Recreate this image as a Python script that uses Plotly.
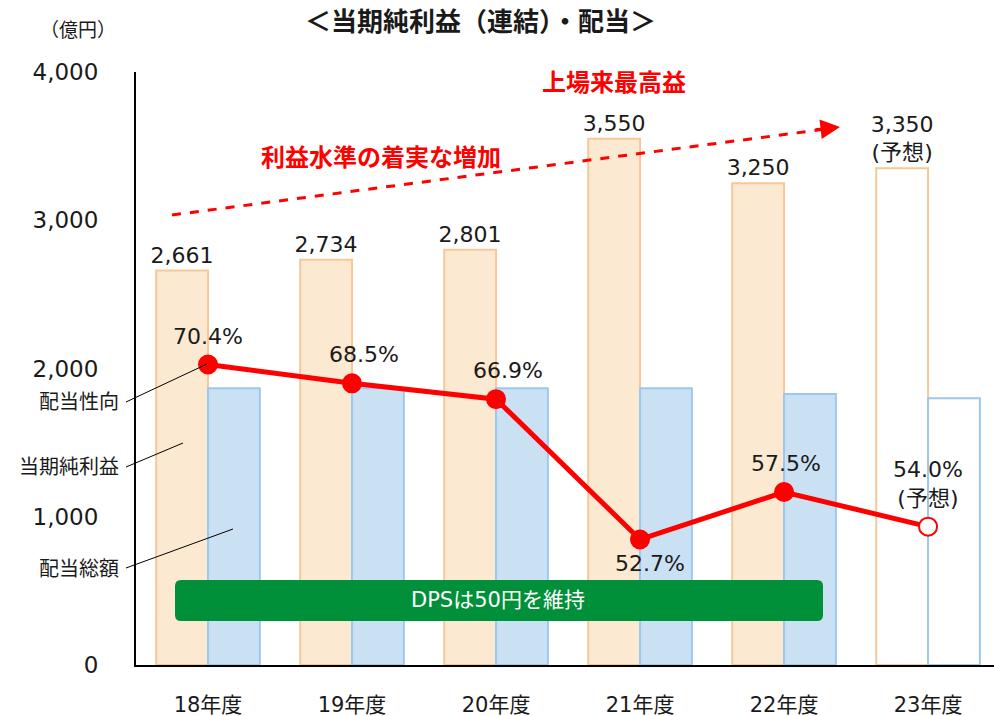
import plotly.graph_objects as go

categories = ["18年度", "19年度", "20年度", "21年度", "22年度", "23年度"]
net_income = [2661, 2734, 2801, 3550, 3250, 3350]
net_income_labels = ["2,661", "2,734", "2,801", "3,550", "3,250", "3,350<br>(予想)"]
dividend_total = [1866, 1866, 1866, 1866, 1828, 1799]
payout_ratio = [70.4, 68.5, 66.9, 52.7, 57.5, 54.0]
payout_labels = ["70.4%", "68.5%", "66.9%", "52.7%", "57.5%", "54.0%<br>(予想)"]
forecast = [False, False, False, False, False, True]
y_ticks = [0, 1000, 2000, 3000, 4000]
y_ticktext = ["0", "1,000", "2,000", "3,000", "4,000"]

FONT = "DejaVu Sans, Noto Sans CJK JP, sans-serif"
x = list(range(len(categories)))

orange_fill = "#FCE9D1"
orange_line = "#F9C797"
blue_fill = "#CAE1F4"
blue_line = "#9DC8EE"
red = "#FF0000"

fig = go.Figure()
fig.add_trace(go.Bar(
    x=x, y=net_income, name="当期純利益",
    marker=dict(color=["white" if f else orange_fill for f in forecast],
                line=dict(color=orange_line, width=2)),
    text=net_income_labels, textposition="outside", cliponaxis=False,
    constraintext="none",
    textfont=dict(family=FONT, size=22, color="#1a1a1a"),
))
fig.add_trace(go.Bar(
    x=x, y=dividend_total, name="配当総額",
    marker=dict(color=["white" if f else blue_fill for f in forecast],
                line=dict(color=blue_line, width=2)),
))
fig.add_trace(go.Scatter(
    x=x, y=payout_ratio, yaxis="y2", mode="lines+markers",
    line=dict(color=red, width=5),
    marker=dict(size=18, color=["white" if f else red for f in forecast],
                line=dict(color=red, width=2)),
    cliponaxis=False,
))

annotations = []
# payout labels
offsets = [-1, -1, -1, 1, -1, -1]
xshift = [0, 12, 12, 10, 2, 0]
for i, (v, lab) in enumerate(zip(payout_ratio, payout_labels)):
    if offsets[i] < 0:
        annotations.append(dict(x=i, y=v, yref="y2", text=lab, showarrow=False,
                                xanchor="center", yanchor="bottom", yshift=14, xshift=xshift[i],
                                font=dict(family=FONT, size=22, color="#1a1a1a")))
    else:
        annotations.append(dict(x=i, y=v, yref="y2", text=lab, showarrow=False,
                                xanchor="center", yanchor="top", yshift=-10, xshift=xshift[i],
                                font=dict(family=FONT, size=22, color="#1a1a1a")))

# texts
annotations += [
    dict(xref="paper", yref="paper", x=(480 - 136) / 858, y=(665 - 22) / 593,
         text="<b>＜当期純利益（連結）・配当＞</b>", showarrow=False,
         xanchor="center", yanchor="middle",
         font=dict(family=FONT, size=26, color="#1a1a1a")),
    dict(xref="paper", yref="paper", x=(78 - 136) / 858, y=(665 - 30) / 593,
         text="（億円）", showarrow=False, xanchor="center", yanchor="middle",
         font=dict(family=FONT, size=19, color="#1a1a1a")),
    dict(xref="paper", yref="paper", x=(614 - 136) / 858, y=(665 - 83) / 593,
         text="<b>上場来最高益</b>", showarrow=False, xanchor="center", yanchor="middle",
         font=dict(family=FONT, size=24, color=red)),
    dict(xref="paper", yref="paper", x=(381 - 136) / 858, y=(665 - 158) / 593,
         text="<b>利益水準の着実な増加</b>", showarrow=False, xanchor="center", yanchor="middle",
         font=dict(family=FONT, size=24, color=red)),
    dict(xref="paper", yref="paper", x=(498 - 136) / 858, y=(665 - 600) / 593,
         text="DPSは50円を維持", showarrow=False, xanchor="center", yanchor="middle",
         font=dict(family=FONT, size=21, color="white")),
]
for lab, py in [("配当性向", 402), ("当期純利益", 467), ("配当総額", 569)]:
    annotations.append(dict(xref="paper", yref="paper", x=(121 - 136) / 858,
                            y=(665 - py) / 593, text=lab, showarrow=False,
                            xanchor="right", yanchor="middle",
                            font=dict(family=FONT, size=20, color="#1a1a1a")))
# arrowhead
annotations.append(dict(xref="paper", yref="paper", x=(840 - 136) / 858, y=(665 - 127) / 593,
                        ax=-26, ay=3, text="", showarrow=True, arrowhead=2, arrowsize=1.3,
                        arrowwidth=3, arrowcolor=red))

def px2paper(px, py):
    return (px - 136) / 858, (665 - py) / 593

shapes = []
x0, y0 = px2paper(172, 215)
x1, y1 = px2paper(826, 129)
shapes.append(dict(type="line", xref="paper", yref="paper", x0=x0, y0=y0, x1=x1, y1=y1,
                   line=dict(color=red, width=3, dash="dash")))
# leader lines
for (a, b), (c, d) in [((126, 402), (207, 364)), ((126, 467), (183, 443)), ((126, 568), (233, 529))]:
    p0 = px2paper(a, b); p1 = px2paper(c, d)
    shapes.append(dict(type="line", xref="paper", yref="paper", x0=p0[0], y0=p0[1],
                       x1=p1[0], y1=p1[1], line=dict(color="black", width=1)))
# green box
bx0, by0 = px2paper(175, 621)
bx1, by1 = px2paper(823, 580)
r = 6 / 858
ry = 6 / 593
path = (f"M {bx0+r},{by1} L {bx1-r},{by1} Q {bx1},{by1} {bx1},{by1-ry} "
        f"L {bx1},{by0+ry} Q {bx1},{by0} {bx1-r},{by0} L {bx0+r},{by0} "
        f"Q {bx0},{by0} {bx0},{by0+ry} L {bx0},{by1-ry} Q {bx0},{by1} {bx0+r},{by1} Z")
shapes.append(dict(type="path", xref="paper", yref="paper", path=path,
                   fillcolor="#009039", line=dict(width=0)))

fig.update_layout(
    width=994, height=716,
    margin=dict(l=136, r=0, t=72, b=51),
    paper_bgcolor="white", plot_bgcolor="white",
    barmode="group", bargap=0.28, bargroupgap=0,
    showlegend=False,
    font=dict(family=FONT, size=20, color="#1a1a1a"),
    xaxis=dict(range=[-0.5, 5.458], tickmode="array", tickvals=x, ticktext=categories,
               showgrid=False, zeroline=False, showline=True, linecolor="black", linewidth=2,
               ticks="", ticklabelstandoff=20, automargin=False,
               tickfont=dict(family=FONT, size=21, color="#1a1a1a")),
    yaxis=dict(range=[0, 4000], tickmode="array", tickvals=y_ticks, ticktext=y_ticktext,
               showgrid=False, zeroline=False, showline=True, linecolor="black", linewidth=2,
               ticks="", ticklabelstandoff=31, automargin=False,
               tickfont=dict(family=FONT, size=23, color="#1a1a1a")),
    yaxis2=dict(range=[40, 100], overlaying="y", side="right", visible=False),
    annotations=annotations,
    shapes=shapes,
)

fig.write_html("out.html", config={"displayModeBar": False},
               post_script="document.body.style.margin='0';")
